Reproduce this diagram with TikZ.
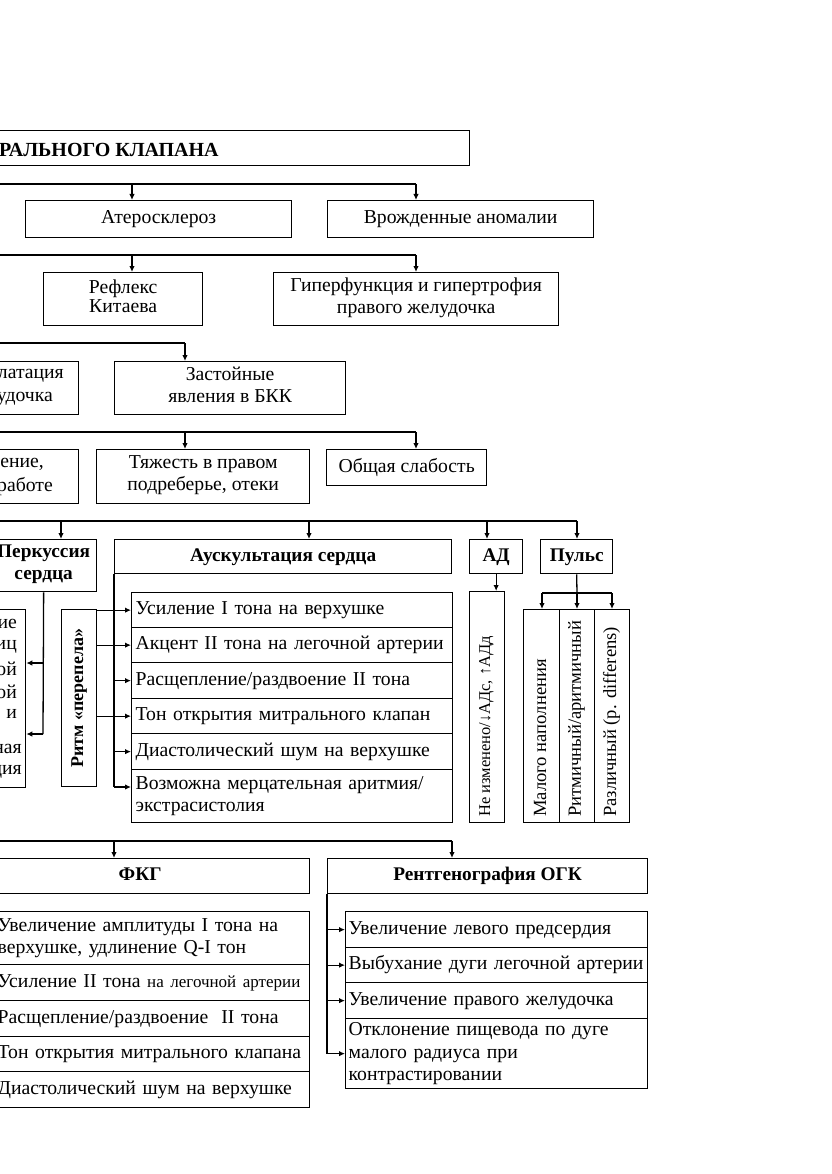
\documentclass[tikz,border=0pt]{standalone}
\usepackage{fontspec}
\setmainfont{Liberation Serif}
\usetikzlibrary{arrows.meta}
\newcommand\fnt{\fontsize{19.7}{22.5}\selectfont}
\newcommand\fbd{\fontsize{19.3}{22.5}\selectfont\bfseries}
\newcommand\fsm{\fontsize{17}{20}\selectfont}
\newcommand\frot{\fontsize{18.6}{22}\selectfont}
\begin{document}
\begin{tikzpicture}[x=1pt,y=-1pt,
  box/.style={draw, line width=1.3pt, inner sep=0pt, anchor=north west, font=\fnt, align=center,
    execute at begin node=\strut, execute at end node=\strut},
  hd/.style={box, font=\fbd},
  item/.style={box, align=left, inner xsep=4pt},
  txt/.style={inner sep=0pt, font=\fnt},
  ln/.style={line width=1.3pt},
  arr/.style={line width=1.3pt, -{Latex[length=6pt,width=5.5pt]}}]
\useasboundingbox (0,0) rectangle (831,1174);
\clip (0,0) rectangle (831,1174);

% ---- top rows
\node[box, minimum width=829pt, minimum height=35pt] (title) at (-360,130) {};
\node[txt, font=\fontsize{20}{24}\selectfont\bfseries, anchor=west] (titletxt) at (-1,150) {РАЛЬНОГО КЛАПАНА};

\node[box, minimum width=266pt, minimum height=37pt] (ather) at (25,200) {Атеросклероз};
\node[box, minimum width=266pt, minimum height=37pt] (vrozh) at (327,200) {Врожденные аномалии};
\node[box, font=\fontsize{19.7}{19.5}\selectfont, minimum width=159pt, minimum height=53pt] (refl) at (43,272) {Рефлекс\\Китаева};
\node[box, minimum width=285pt, minimum height=53pt] (giper) at (273,272) {Гиперфункция и гипертрофия\\правого желудочка};
\node[box, minimum width=228pt, minimum height=53pt] (dil) at (-150,361) {};
\node[txt, anchor=east] (diltxt1) at (64,376) {латация};
\node[txt, anchor=east] (diltxt2) at (53,399) {удочка};
\node[box, minimum width=231pt, minimum height=53pt] (zast) at (114,361) {Застойные\\явления в БКК};
\node[box, minimum width=228pt, minimum height=54pt] (odysh) at (-150,449) {};
\node[txt, anchor=east] (odtxt1) at (44,464) {ение,};
\node[txt, anchor=east] (odtxt2) at (53,487) {работе};
\node[box, minimum width=213pt, minimum height=54pt] (tyazh) at (96,449) {Тяжесть в правом\\подреберье, отеки};
\node[box, minimum width=160pt, minimum height=36pt] (slab) at (326,449) {Общая слабость};

% ---- bus lines top
\coordinate (b1s) at (-5,184); \coordinate (b1a) at (132,184); \coordinate (b1b) at (416,184);
\draw[ln] (b1s) -- (b1b);
\draw[arr] (b1a) -- (b1a |- ather.north);
\draw[arr] (b1b) -- (b1b |- vrozh.north);
\coordinate (b2s) at (-5,255); \coordinate (b2a) at (132,255); \coordinate (b2b) at (416,255);
\draw[ln] (b2s) -- (b2b);
\draw[arr] (b2a) -- (b2a |- refl.north);
\draw[arr] (b2b) -- (b2b |- giper.north);
\coordinate (b3s) at (-5,343); \coordinate (b3a) at (185,343);
\draw[ln] (b3s) -- (b3a);
\draw[arr] (b3a) -- (b3a |- zast.north);
\coordinate (b4s) at (-5,432); \coordinate (b4a) at (185,432); \coordinate (b4b) at (416,432);
\draw[ln] (b4s) -- (b4b);
\draw[arr] (b4a) -- (b4a |- tyazh.north);
\draw[arr] (b4b) -- (b4b |- slab.north);

% ---- examination headers
\node[hd, minimum width=106pt, minimum height=52pt] (perk) at (-10,539) {Перкуссия\\сердца};
\node[hd, minimum width=337pt, minimum height=34pt] (ausk) at (114,539) {Аускультация сердца};
\node[hd, minimum width=53pt, minimum height=34pt] (ad) at (469,539) {АД};
\node[hd, minimum width=72pt, minimum height=34pt] (puls) at (540,539) {Пульс};

\coordinate (b5s) at (-5,521); \coordinate (b5a) at (61,521); \coordinate (b5b) at (309,521);
\coordinate (b5c) at (487,521); \coordinate (b5d) at (577,521);
\draw[ln] (b5s) -- (b5d);
\draw[arr] (b5a) -- (b5a |- perk.north);
\draw[arr] (b5b) -- (b5b |- ausk.north);
\draw[arr] (b5c) -- (b5c |- ad.north);
\draw[arr] (b5d) -- (b5d |- puls.north);

% ---- percussion
\node[box, minimum width=175pt, minimum height=178pt] (perkbox) at (-150,609) {};
\node[txt, anchor=east] (pk1) at (17,624) {ие};
\node[txt, anchor=east] (pk2) at (17,647) {иц};
\node[txt, anchor=east] (pk3) at (17,669) {ой};
\node[txt, anchor=east] (pk4) at (17,692) {ой};
\node[txt, anchor=east] (pk5) at (17,714) {и};
\node[txt, anchor=east] (pk6) at (22,749) {ная};
\node[txt, anchor=east] (pk7) at (22,772) {ция};
\coordinate (pa1) at (43,663); \coordinate (pa2) at (43,734);
\draw[ln] (perk.south) -- (pa2);
\draw[arr] (pa1) -- (pa1 -| perkbox.east);
\draw[arr] (pa2) -- (pa2 -| perkbox.east);

% ---- auscultation
\node[box, minimum width=35pt, minimum height=177pt] (ritm) at (61,609) {};
\node[txt, font=\fontsize{18}{22}\selectfont\bfseries, rotate=90] (ritmtxt) at (ritm.center) {Ритм «перепела»};
\node[item, text width=313pt, minimum width=321pt, minimum height=35pt] (a1) at (131,592) {Усиление I тона на верхушке};
\node[item, text width=313pt, minimum width=321pt, minimum height=35pt] (a2) at (131,627) {Акцент II тона на легочной артерии};
\node[item, text width=313pt, minimum width=321pt, minimum height=36pt] (a3) at (131,662) {Расщепление/раздвоение II тона};
\node[item, text width=313pt, minimum width=321pt, minimum height=35pt] (a4) at (131,698) {Тон открытия митрального клапан};
\node[item, text width=313pt, minimum width=321pt, minimum height=36pt] (a5) at (131,733) {Диастолический шум на верхушке};
\node[item, text width=313pt, minimum width=321pt, minimum height=53pt] (a6) at (131,769) {Возможна мерцательная аритмия/\\экстрасистолия};
\coordinate (aend) at (114,787);
\draw[ln] (ausk.south west) -- (aend);
\draw[arr] (ausk.south west |- a3.west) -- (a3.west);
\draw[arr] (ausk.south west |- a5.west) -- (a5.west);
\draw[arr] (aend) -- (aend -| a6.west);
\draw[arr] (ritm.east |- a1.west) -- (a1.west);
\draw[arr] (ritm.east |- a2.west) -- (a2.west);
\draw[arr] (ritm.east |- a4.west) -- (a4.west);

% ---- AD
\node[box, minimum width=35pt, minimum height=231pt] (adbox) at (469,591) {};
\node[txt, font=\fontsize{16.5}{20}\selectfont, rotate=90, anchor=west] (adtxt) at (486.5,817) {Не изменено/↓АДс, ↑АДд};
\draw[arr] (ad.south) -- (ad.south |- adbox.north);

% ---- pulse
\node[box, minimum width=36pt, minimum height=213pt] (p1) at (523,609) {};
\node[box, minimum width=35pt, minimum height=213pt] (p2) at (559,609) {};
\node[box, minimum width=35pt, minimum height=213pt] (p3) at (594,609) {};
\node[txt, font=\frot, rotate=90, anchor=west] (p1t) at (540,817) {Малого наполнения};
\node[txt, font=\frot, rotate=90, anchor=west] (p2t) at (576.5,817) {Ритмичный/аритмичный};
\node[txt, font=\frot, rotate=90, anchor=west] (p3t) at (611.5,817) {Различный (p. differens)};
\coordinate (pj) at (577,593); \coordinate (pl) at (542,593); \coordinate (pr) at (612,593);
\draw[ln] (puls.south) -- (pj);
\draw[ln] (pl) -- (pr);
\draw[arr] (pl) -- (pl |- p1.north);
\draw[arr] (pj) -- (pj |- p2.north);
\draw[arr] (pr) -- (pr |- p3.north);

% ---- FKG & X-ray
\node[hd, minimum width=339pt, minimum height=35pt] (fkg) at (-30,858) {ФКГ};
\node[hd, minimum width=320pt, minimum height=35pt] (rent) at (327,858) {Рентгенография ОГК};
\coordinate (b6s) at (-5,841); \coordinate (b6a) at (114,841); \coordinate (b6b) at (452,841);
\draw[ln] (b6s) -- (b6b);
\draw[arr] (b6a) -- (b6a |- fkg.north);
\draw[arr] (b6b) -- (b6b |- rent.north);

\node[item, inner xsep=5pt, text width=307pt, minimum width=317pt, minimum height=53pt] (f1) at (-8,911) {Увеличение амплитуды I тона на\\верхушке, удлинение Q-I тон};
\node[item, inner xsep=5pt, text width=307pt, minimum width=317pt, minimum height=36pt] (f2) at (-8,964) {Усиление II тона {\fsm на легочной артерии}};
\node[item, inner xsep=5pt, text width=307pt, minimum width=317pt, minimum height=36pt] (f3) at (-8,1000) {Расщепление/раздвоение\ \ II тона};
\node[item, inner xsep=5pt, text width=307pt, minimum width=317pt, minimum height=35pt] (f4) at (-8,1036) {Тон открытия митрального клапана};
\node[item, inner xsep=5pt, text width=307pt, minimum width=317pt, minimum height=36pt] (f5) at (-8,1071) {Диастолический шум на верхушке};

\node[item, inner xsep=3pt, text width=296pt, minimum width=302pt, minimum height=36pt] (r1) at (345,911) {Увеличение левого предсердия};
\node[item, inner xsep=3pt, text width=296pt, minimum width=302pt, minimum height=35pt] (r2) at (345,947) {Выбухание дуги легочной артерии};
\node[item, inner xsep=3pt, text width=296pt, minimum width=302pt, minimum height=36pt] (r3) at (345,982) {Увеличение правого желудочка};
\node[item, inner xsep=3pt, text width=296pt, minimum width=302pt, minimum height=70pt] (r4) at (345,1018) {Отклонение пищевода по дуге\\малого радиуса при\\контрастировании};
\draw[ln] (rent.south west) -- (rent.south west |- r4.west);
\draw[arr] (rent.south west |- r1.west) -- (r1.west);
\draw[arr] (rent.south west |- r2.west) -- (r2.west);
\draw[arr] (rent.south west |- r3.west) -- (r3.west);
\draw[arr] (rent.south west |- r4.west) -- (r4.west);
\end{tikzpicture}
\end{document}
